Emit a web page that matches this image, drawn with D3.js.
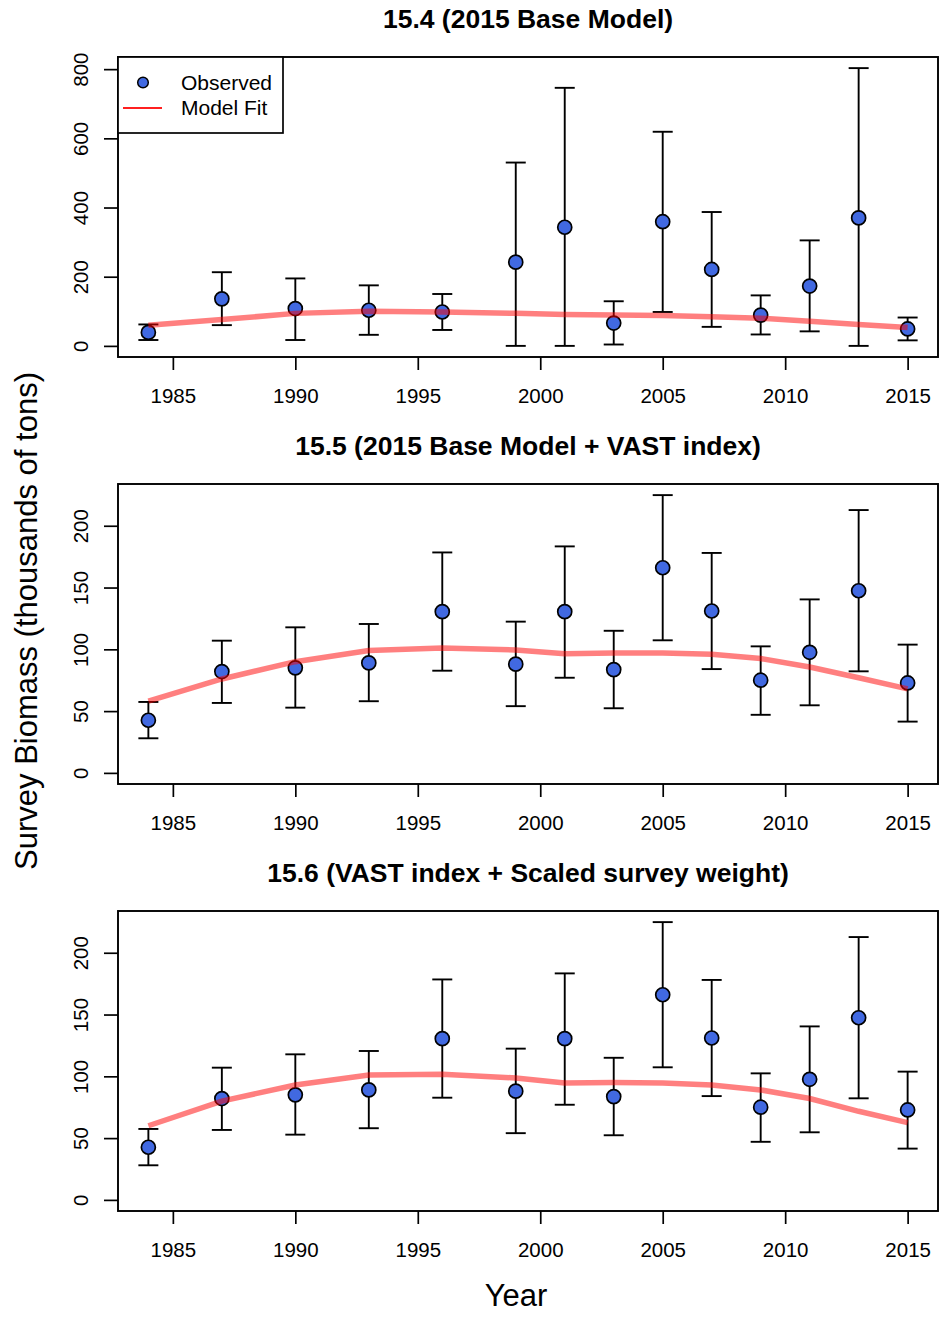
<!DOCTYPE html>
<html>
<head>
<meta charset="utf-8">
<script src="https://cdn.jsdelivr.net/npm/d3@7"></script>
<style>
  body { margin: 0; background: white; }
  text { font-family: "Liberation Sans", Arial, Helvetica, sans-serif; fill: black; }
</style>
</head>
<body>
<script>

// survey years and estimates (thousands of tons)
var years = [1984,1987,1990,1993,1996,1999,2001,2003,2005,2007,2009,2011,2013,2015];

var obs1 = [39,136,108,103,98,242,343,66,359,221,89,173,370,49];
var lo1  = [17,60,17,32,46,0,0,4,98,55,33,42,0,16];
var hi1  = [62,213,195,175,150,530,746,129,619,387,146,305,803,82];
var fit1 = [60,76,94,100,98,94,91,89,88,84,80,71,62,53];

var obs2 = [42.6,82,85,89,130.5,88,130.5,83.6,166,131,75,97.6,147.4,72.8];
var lo2  = [28,56.6,52.8,58,82.7,54,77,52.3,107.3,84,47,54.7,82.2,41.5];
var hi2  = [57.4,107,117.8,120.5,178.4,122.4,183.3,115,224.8,178,102.4,140.4,212.7,103.8];
var fit2 = [58,76,90,99,101,99.5,96.5,97,97,96,92.5,85.7,77,68];

var obs3 = obs2;
var lo3  = lo2;
var hi3  = hi2;
var fit3 = [60,80,93,101,101.6,98.7,94.6,95,94.6,93,89,82,71.7,62.5];

var titles = ['15.4 (2015 Base Model)',
              '15.5 (2015 Base Model + VAST index)',
              '15.6 (VAST index + Scaled survey weight)'];
var yticks1 = [0,200,400,600,800];
var yticks2 = [0,50,100,150,200];
var xticks = [1985,1990,1995,2000,2005,2010,2015];

var svg = d3.select('body').append('svg')
      .attr('width', 939)
      .attr('height', 1320);

var left = 118, right = 938, boxH = 300;

// R style 4% padding on both ends
var x = d3.scaleLinear()
    .domain([years[0] - 0.04*(years[years.length-1]-years[0]),
             years[years.length-1] + 0.04*(years[years.length-1]-years[0])])
    .range([left, right]);

function panel(top, title, obs, lo, hi, fit, yticks, showLegend) {
  var ymax = d3.max(hi);
  var y = d3.scaleLinear()
      .domain([-0.04*ymax, 1.04*ymax])
      .range([top + boxH, top]);

  var g = svg.append('g');

  // error bars
  var bars = g.selectAll('.ebar')
      .data(years)
      .enter().append('g')
      .attr('class', 'ebar')
      .attr('stroke', 'black')
      .attr('stroke-width', 1.9);
  bars.append('line')
      .attr('x1', function(d) { return x(d); })
      .attr('x2', function(d) { return x(d); })
      .attr('y1', function(d,i) { return y(lo[i]); })
      .attr('y2', function(d,i) { return y(hi[i]); });
  bars.append('line')
      .attr('x1', function(d) { return x(d) - 10; })
      .attr('x2', function(d) { return x(d) + 10; })
      .attr('y1', function(d,i) { return y(lo[i]); })
      .attr('y2', function(d,i) { return y(lo[i]); });
  bars.append('line')
      .attr('x1', function(d) { return x(d) - 10; })
      .attr('x2', function(d) { return x(d) + 10; })
      .attr('y1', function(d,i) { return y(hi[i]); })
      .attr('y2', function(d,i) { return y(hi[i]); });

  // observed points
  g.selectAll('.pt')
      .data(years)
      .enter().append('circle')
      .attr('class', 'pt')
      .attr('cx', function(d) { return x(d); })
      .attr('cy', function(d,i) { return y(obs[i]); })
      .attr('r', 7)
      .attr('fill', '#4169E1')
      .attr('stroke', 'black')
      .attr('stroke-width', 1.7);

  // model fit, translucent red on top
  var line = d3.line()
      .x(function(d) { return x(d); })
      .y(function(d,i) { return y(fit[i]); });
  g.append('path')
      .datum(years)
      .attr('d', line)
      .attr('fill', 'none')
      .attr('stroke', 'rgba(255,0,0,0.5)')
      .attr('stroke-width', 5.5);

  // axes
  var xa = g.append('g')
      .attr('transform', 'translate(0,' + (top + boxH) + ')')
      .call(d3.axisBottom(x).tickValues(xticks).tickFormat(d3.format('d')).tickSize(13));
  xa.select('.domain').remove();
  xa.selectAll('line').attr('stroke-width', 1.7);
  xa.selectAll('text')
      .attr('y', 46).attr('dy', 0)
      .style('font-size', '20.5px')
      .style('font-family', '"Liberation Sans", Arial, sans-serif')
      .attr('fill', 'black');

  var ya = g.append('g')
      .attr('transform', 'translate(' + left + ',0)')
      .call(d3.axisLeft(y).tickValues(yticks).tickSize(14));
  ya.select('.domain').remove();
  ya.selectAll('line').attr('stroke-width', 1.7);
  ya.selectAll('text')
      .attr('x', 0).attr('y', 0).attr('dy', 0)
      .attr('transform', 'translate(-30,0) rotate(-90)')
      .attr('text-anchor', 'middle')
      .style('font-size', '20.5px')
      .style('font-family', '"Liberation Sans", Arial, sans-serif')
      .attr('fill', 'black');

  // box
  g.append('rect')
      .attr('x', left)
      .attr('y', top)
      .attr('width', right - left)
      .attr('height', boxH)
      .attr('fill', 'none')
      .attr('stroke', 'black')
      .attr('stroke-width', 1.9);

  g.append('text')
      .attr('x', (left + right) / 2)
      .attr('y', top - 29)
      .attr('text-anchor', 'middle')
      .style('font-size', '26.5px')
      .style('font-weight', 'bold')
      .text(title);

  if (showLegend) {
    var lg = g.append('g');
    lg.append('rect')
        .attr('x', left).attr('y', top)
        .attr('width', 165).attr('height', 76)
        .attr('fill', 'white')
        .attr('stroke', 'black')
        .attr('stroke-width', 1.7);
    lg.append('circle')
        .attr('cx', 143).attr('cy', top + 25.5)
        .attr('r', 5.3)
        .attr('fill', '#4169E1')
        .attr('stroke', 'black')
        .attr('stroke-width', 1.5);
    lg.append('line')
        .attr('x1', 123).attr('x2', 162)
        .attr('y1', top + 51).attr('y2', top + 51)
        .attr('stroke', '#ff2020')
        .attr('stroke-width', 2);
    lg.append('text')
        .attr('x', 181).attr('y', top + 33)
        .style('font-size', '21px')
        .text('Observed');
    lg.append('text')
        .attr('x', 181).attr('y', top + 58)
        .style('font-size', '21px')
        .text('Model Fit');
  }
}

panel(57,  titles[0], obs1, lo1, hi1, fit1, yticks1, true);
panel(484, titles[1], obs2, lo2, hi2, fit2, yticks2, false);
panel(911, titles[2], obs3, lo3, hi3, fit3, yticks2, false);

svg.append('text')
    .attr('transform', 'translate(36.5,621) rotate(-90)')
    .attr('text-anchor', 'middle')
    .style('font-size', '31px')
    .text('Survey Biomass (thousands of tons)');

svg.append('text')
    .attr('x', 516)
    .attr('y', 1306)
    .attr('text-anchor', 'middle')
    .style('font-size', '31px')
    .text('Year');

</script>
</body>
</html>
